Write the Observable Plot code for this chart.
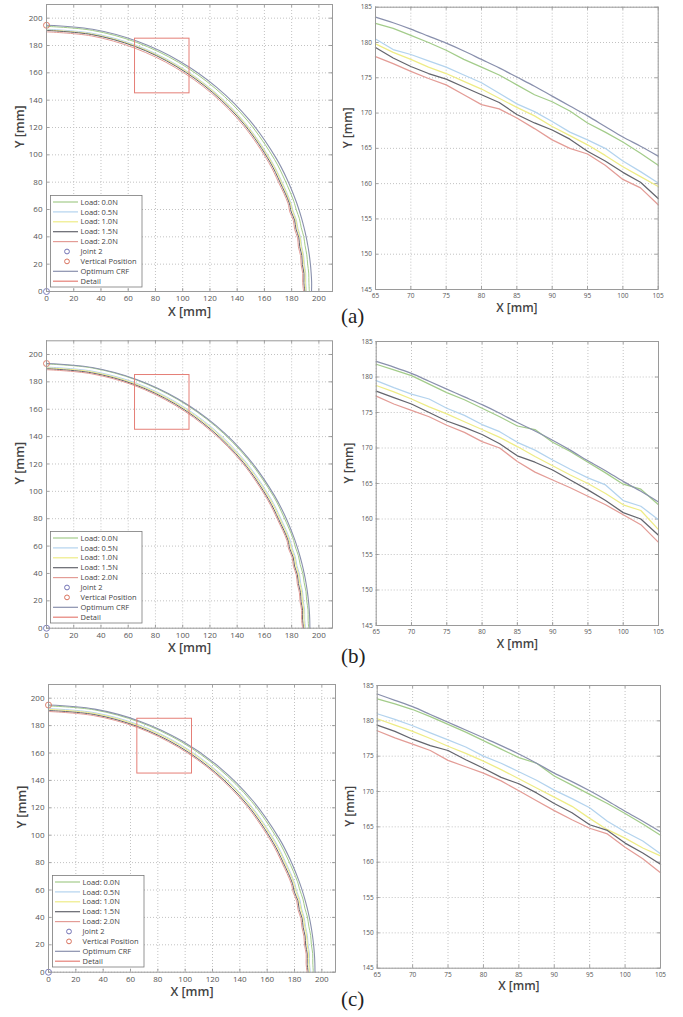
<!DOCTYPE html>
<html><head><meta charset="utf-8">
<script src="https://cdn.jsdelivr.net/npm/d3@7"></script>
<script src="https://cdn.jsdelivr.net/npm/@observablehq/plot@0.6"></script>
<style>
body{margin:0;background:#fff;}
#root{position:relative;width:683px;height:1017px;overflow:hidden;font-family:"Open Sans",sans-serif;}
.panel{position:absolute;}
.panel svg{overflow:visible;}
.lbl{position:absolute;font-family:"Liberation Serif",serif;font-size:21px;color:#222;line-height:1;}
</style></head><body><div id="root"></div>
<script>
// ---------- categories / styles ----------
const seriesNames = ["Load: 0.0N","Load: 0.5N","Load: 1.0N","Load: 1.5N","Load: 2.0N"];
const seriesColors = ["#a3cc8a","#b3d3ee","#eeec86","#64656d","#e39c96"];
const optimumName = "Optimum CRF";
const optimumColor = "#8990ad";
const jointColor = "#7373b5";
const verticalColor = "#d9735f";
const detailColor = "#e57f77";

// ---------- tick labels ----------
const xTicksL = [0,20,40,60,80,100,120,140,160,180,200];
const yTicksL = [0,20,40,60,80,100,120,140,160,180,200];
const xTicksR = [65,70,75,80,85,90,95,100,105];
const yTicksR = [145,150,155,160,165,170,175,180,185];

// detail window
const detailX = [65,105];
const detailY = [145,185];

// ---------- full trajectories (radius [mm] read at polar angle [deg]) ----------
const angleDeg = [90,80,70,60,50,40,30,25,20,18,16,14,12,10,8,6,4,2,0];

const a_opt = [194.8,194.8,194.8,194.8,194.8,194.8,194.8,194.8,194.8,194.8,194.8,194.8,194.8,194.8,194.8,194.8,194.8,194.8,194.6];
const a_l00 = [194.0,194.0,193.9,193.7,193.5,193.4,193.3,193.1,193.2,192.9,193.2,192.8,193.1,192.8,193.0,192.8,193.0,192.8,193.0];
const a_l05 = [191.9,191.9,191.8,191.5,191.2,191.0,190.8,190.6,190.8,190.4,190.8,190.3,190.7,190.3,190.6,190.4,190.8,190.5,190.9];
const a_l10 = [191.3,191.3,191.2,191.0,190.8,190.6,190.4,190.2,190.4,190.0,190.4,189.9,190.3,189.9,190.2,190.0,190.4,190.1,190.5];
const a_l15 = [191.0,190.9,190.7,190.3,190.0,189.8,189.5,189.2,189.6,188.9,189.5,188.8,189.4,188.8,189.3,188.9,189.5,189.1,189.7];
const a_l20 = [190.0,189.9,189.5,189.2,189.0,188.8,188.5,188.2,188.7,187.9,188.6,187.8,188.5,187.8,188.4,188.0,188.6,188.2,188.8];

const b_opt = [193.4,193.4,193.4,193.4,193.4,193.4,193.4,193.4,193.4,193.4,193.4,193.4,193.4,193.4,193.4,193.4,193.4,193.4,193.4];
const b_l00 = [193.1,193.1,193.0,192.9,192.8,192.6,192.5,192.3,192.5,192.1,192.4,192.0,192.4,192.1,192.4,192.1,192.5,192.2,192.5];
const b_l05 = [190.8,190.8,190.8,190.6,190.4,190.2,190.0,189.8,190.1,189.6,190.0,189.5,189.9,189.5,189.9,189.6,190.0,189.7,190.2];
const b_l10 = [190.2,190.2,190.1,189.9,189.7,189.5,189.3,189.1,189.4,188.9,189.3,188.8,189.2,188.9,189.2,189.0,189.4,189.1,189.6];
const b_l15 = [189.6,189.5,189.4,189.1,188.8,188.6,188.3,188.1,188.6,187.8,188.4,187.7,188.3,187.8,188.3,187.9,188.5,188.1,188.8];
const b_l20 = [188.9,188.8,188.7,188.3,188.0,187.8,187.5,187.3,187.8,187.0,187.6,186.9,187.5,187.0,187.5,187.2,187.8,187.4,188.1];

const c_opt = [195.0,195.0,195.0,195.0,195.0,195.0,195.0,195.0,195.0,195.0,195.0,195.0,195.0,195.0,195.0,195.0,195.0,195.0,195.0];
const c_l00 = [194.4,194.4,194.3,194.2,194.0,193.9,193.7,193.6,193.8,193.4,193.7,193.3,193.7,193.4,193.7,193.4,193.8,193.5,193.8];
const c_l05 = [192.4,192.4,192.3,192.1,191.8,191.6,191.4,191.2,191.5,191.0,191.4,190.9,191.3,191.0,191.3,191.0,191.4,191.1,191.6];
const c_l10 = [191.8,191.8,191.7,191.5,191.2,191.0,190.8,190.6,190.9,190.4,190.8,190.3,190.7,190.4,190.7,190.4,190.8,190.5,191.0];
const c_l15 = [191.0,191.0,190.8,190.5,190.2,190.0,189.7,189.5,189.9,189.2,189.8,189.1,189.7,189.2,189.6,189.2,189.8,189.4,190.0];
const c_l20 = [190.3,190.2,190.1,189.7,189.4,189.1,188.8,188.6,189.0,188.3,188.9,188.2,188.8,188.3,188.7,188.4,189.0,188.6,189.2];

// markers: Joint 2 at origin, vertical position on Y axis
const jointXY = [0,0];
const verticalY = [194.8,193.4,195.0];

// ---------- detail views: Y [mm] at X [mm] ----------
const detailXs = [65,67.5,70,72.5,75,77.5,80,82.5,85,87.5,90,92.5,95,97.5,100,102.5,105];

const da_opt = [183.6,182.8,181.9,180.9,179.9,178.8,177.6,176.4,175.1,173.8,172.4,171.0,169.6,168.1,166.6,165.3,163.9];
const da_l00 = [182.7,182.0,181.0,180.0,178.9,177.6,176.5,175.4,174.0,172.6,171.6,170.3,168.6,167.3,165.9,164.3,162.6];
const da_l05 = [180.5,179.0,178.3,177.4,176.5,175.4,174.3,172.8,171.3,170.2,168.8,167.3,166.2,165.0,163.2,161.7,160.1];
const da_l10 = [179.8,178.6,177.6,176.5,175.6,174.5,173.4,172.1,170.8,169.6,168.1,166.8,165.5,164.0,162.4,161.0,159.6];
const da_l15 = [179.3,177.8,176.6,175.6,174.8,173.7,172.6,171.5,169.8,168.6,167.6,166.3,164.6,163.2,161.6,160.2,157.9];
const da_l20 = [178.0,177.0,175.9,174.9,174.0,172.6,171.2,170.6,169.3,167.8,166.2,165.0,164.2,162.6,160.6,159.4,157.0];

const db_opt = [182.2,181.4,180.5,179.4,178.3,177.2,176.1,174.9,173.6,172.4,171.1,169.7,168.2,166.8,165.3,163.9,162.4];
const db_l00 = [181.8,181.0,180.2,179.0,177.8,176.8,175.6,174.4,173.1,172.6,170.8,169.5,168.0,166.5,164.9,164.2,162.0];
const db_l05 = [179.5,178.5,177.6,176.9,175.6,174.6,173.3,172.3,170.8,169.7,168.3,167.0,165.8,164.8,162.6,161.8,159.9];
const db_l10 = [178.8,177.9,176.9,175.8,174.8,173.7,172.6,171.5,170.2,168.8,167.5,166.2,165.0,163.6,162.0,161.2,158.5];
const db_l15 = [178.0,177.1,176.2,175.0,173.8,172.9,171.9,170.6,168.9,168.0,166.9,165.5,164.1,162.6,160.9,160.0,157.7];
const db_l20 = [177.3,176.2,175.3,174.4,173.2,172.2,170.9,170.0,168.1,166.6,165.5,164.4,163.2,162.0,160.6,159.2,156.7];

const dc_opt = [183.8,182.9,182.0,180.9,179.8,178.7,177.6,176.5,175.3,174.0,172.6,171.4,170.1,168.7,167.2,165.8,164.3];
const dc_l00 = [183.1,182.4,181.6,180.6,179.5,178.4,177.2,176.0,174.8,174.0,172.2,170.9,169.6,168.3,166.9,165.4,163.8];
const dc_l05 = [181.0,180.2,179.3,178.3,177.3,176.3,175.0,174.0,172.8,171.6,170.2,169.0,167.7,165.8,164.3,163.0,161.2];
const dc_l10 = [180.3,179.4,178.5,177.5,176.4,175.4,174.3,173.1,171.8,170.5,169.2,167.9,166.2,164.6,163.4,162.0,160.9];
const dc_l15 = [179.4,178.5,177.4,176.5,175.8,174.5,173.3,172.0,171.1,169.8,168.3,167.0,165.3,164.5,162.7,161.3,159.7];
const dc_l20 = [178.6,177.6,176.7,175.8,174.4,173.5,172.6,171.5,170.1,168.7,167.3,166.0,164.8,164.0,162.1,160.5,158.5];

// ---------- helpers ----------
const allNames = [...seriesNames, optimumName];
const allColors = [...seriesColors, optimumColor];

function polar(radii, name) {
  return angleDeg.map((a, i) => ({x: radii[i]*Math.cos(a*Math.PI/180), y: radii[i]*Math.sin(a*Math.PI/180), name}));
}
function cart(ys, name) {
  return detailXs.map((x, i) => ({x, y: ys[i], name}));
}

function frameTicks(xt, yt, fw, fh) {
  const s = {stroke:"#8c8c8c", strokeWidth:0.8};
  return [
    Plot.tickX(xt, {x:d=>d, insetTop: fh-3, ...s}),
    Plot.tickX(xt, {x:d=>d, insetBottom: fh-3, ...s}),
    Plot.tickY(yt, {y:d=>d, insetRight: fw-3, ...s}),
    Plot.tickY(yt, {y:d=>d, insetLeft: fw-3, ...s})
  ];
}

function leftPlot(radii, optR, vY, m) {
  const W=340, H=330;
  const fw = W-m.l-m.r, fh = H-m.t-m.b;
  const loads = radii.flatMap((r,i)=>polar(r, seriesNames[i]));
  const opt = polar(optR, optimumName);
  return Plot.plot({
    width:W, height:H, marginLeft:m.l, marginRight:m.r, marginTop:m.t, marginBottom:m.b,
    x:{domain:[0,210], label:null}, y:{domain:[0,210], label:null},
    color:{domain:allNames, range:allColors},
    style:{fontFamily:"Open Sans", color:"#555", background:"none", overflow:"visible"},
    marks:[
      Plot.gridX(xTicksL, {stroke:"#c2c2c2", strokeOpacity:1, strokeDasharray:"1,2"}),
      Plot.gridY(yTicksL, {stroke:"#c2c2c2", strokeOpacity:1, strokeDasharray:"1,2"}),
      ...frameTicks(xTicksL, yTicksL, fw, fh),
      Plot.axisX(xTicksL, {tickSize:0, tickPadding:4, fontSize:8, label:null}),
      Plot.axisY(yTicksL, {tickSize:0, tickPadding:4, fontSize:8, label:null}),
      Plot.line(loads, {x:"x", y:"y", z:"name", stroke:"name", strokeWidth:1, curve:"catmull-rom"}),
      Plot.line(opt, {x:"x", y:"y", stroke:"name", strokeWidth:1.1, curve:"catmull-rom"}),
      Plot.rect([0], {x1:()=>detailX[0], x2:()=>detailX[1], y1:()=>detailY[0], y2:()=>detailY[1], fill:"none", stroke:detailColor, strokeWidth:1}),
      Plot.dot([0], {x:()=>jointXY[0], y:()=>jointXY[1], r:3, stroke:jointColor, fill:"none", strokeWidth:0.9}),
      Plot.dot([0], {x:()=>0, y:()=>vY, r:3, stroke:verticalColor, fill:"none", strokeWidth:0.9}),
      Plot.frame({stroke:"#9a9a9a", strokeWidth:1}),
      Plot.text(["X [mm]"], {frameAnchor:"bottom", dy:24, fontSize:12.5, fill:"#444", fontWeight:600}),
      Plot.text(["Y [mm]"], {frameAnchor:"left", dx:-27, rotate:-90, fontSize:12.5, fill:"#444", fontWeight:600})
    ]
  });
}

function rightPlot(series, optYs, m) {
  const W=343, H=330;
  const fw = W-m.l-m.r, fh = H-m.t-m.b;
  const loads = series.flatMap((ys,i)=>cart(ys, seriesNames[i]));
  const opt = cart(optYs, optimumName);
  return Plot.plot({
    width:W, height:H, marginLeft:m.l, marginRight:m.r, marginTop:m.t, marginBottom:m.b,
    x:{domain:detailX, label:null}, y:{domain:detailY, label:null},
    color:{domain:allNames, range:allColors},
    style:{fontFamily:"Open Sans", color:"#555", background:"none", overflow:"visible"},
    marks:[
      Plot.gridX(xTicksR, {stroke:"#c2c2c2", strokeOpacity:1, strokeDasharray:"1,2"}),
      Plot.gridY(yTicksR, {stroke:"#c2c2c2", strokeOpacity:1, strokeDasharray:"1,2"}),
      ...frameTicks(xTicksR, yTicksR, fw, fh),
      Plot.axisX(xTicksR, {tickSize:0, tickPadding:4, fontSize:6.5, label:null}),
      Plot.axisY(yTicksR, {tickSize:0, tickPadding:3.5, fontSize:6.5, label:null}),
      Plot.line(loads, {x:"x", y:"y", z:"name", stroke:"name", strokeWidth:1.25}),
      Plot.line(opt, {x:"x", y:"y", stroke:"name", strokeWidth:1.25, curve:"catmull-rom"}),
      Plot.frame({stroke:"#9a9a9a", strokeWidth:1}),
      Plot.text(["X [mm]"], {frameAnchor:"bottom", dy:22, fontSize:12, fill:"#444", fontWeight:600}),
      Plot.text(["Y [mm]"], {frameAnchor:"left", dx:-27, rotate:-90, fontSize:12, fill:"#444", fontWeight:600})
    ]
  });
}

function legend() {
  const items = [
    ...seriesNames.map((n,i)=>({label:n, type:"line", color:seriesColors[i]})),
    {label:"Joint 2", type:"dot", color:jointColor},
    {label:"Vertical Position", type:"dot", color:verticalColor},
    {label:optimumName, type:"line", color:optimumColor},
    {label:"Detail", type:"line", color:detailColor}
  ];
  const svg = d3.create("svg").attr("width",93).attr("height",93)
    .style("position","absolute").style("left","50px").style("top","195px");
  svg.append("rect").attr("x",0.5).attr("y",0.5).attr("width",91.5).attr("height",91.5)
    .attr("fill","#fff").attr("stroke","#7a7a7a").attr("stroke-width",0.8);
  items.forEach((it,i)=>{
    const y = 7 + i*9.9;
    if (it.type==="line") svg.append("line").attr("x1",3).attr("x2",28).attr("y1",y).attr("y2",y).attr("stroke",it.color).attr("stroke-width",1.2);
    else svg.append("circle").attr("cx",17).attr("cy",y).attr("r",2.4).attr("fill","none").attr("stroke",it.color).attr("stroke-width",1);
    svg.append("text").attr("x",30.5).attr("y",y).attr("dy","0.35em").attr("font-size",7.5)
      .attr("font-family","Open Sans").attr("fill","#444").text(it.label);
  });
  return svg.node();
}

const root = document.getElementById("root");
function place(node, left, top) {
  const d = document.createElement("div");
  d.className = "panel"; d.style.left = left+"px"; d.style.top = top+"px";
  d.appendChild(node); root.appendChild(d); return d;
}

const la = place(leftPlot([a_l00,a_l05,a_l10,a_l15,a_l20], a_opt, verticalY[0], {l:46,r:8,t:4,b:39}), 0, 0);
la.appendChild(legend());
const lb = place(leftPlot([b_l00,b_l05,b_l10,b_l15,b_l20], b_opt, verticalY[1], {l:46,r:8,t:4.3,b:38.3}), 0, 336);
lb.appendChild(legend());
const lc = place(leftPlot([c_l00,c_l05,c_l10,c_l15,c_l20], c_opt, verticalY[2], {l:46,r:7,t:4,b:38.3}), 2, 680);
lc.appendChild(legend());

place(rightPlot([da_l00,da_l05,da_l10,da_l15,da_l20], da_opt, {l:35,r:25.3,t:6.7,b:41}), 340, 0);
place(rightPlot([db_l00,db_l05,db_l10,db_l15,db_l20], db_opt, {l:35.7,r:25,t:5,b:41}), 340, 336);
place(rightPlot([dc_l00,dc_l05,dc_l10,dc_l15,dc_l20], dc_opt, {l:36.7,r:23,t:5,b:42.3}), 340, 680);

[["(a)",306],["(b)",646],["(c)",989]].forEach(([t,top])=>{
  const d = document.createElement("div"); d.className="lbl"; d.style.left="341px"; d.style.top=top+"px"; d.textContent=t; root.appendChild(d);
});
</script></body></html>
